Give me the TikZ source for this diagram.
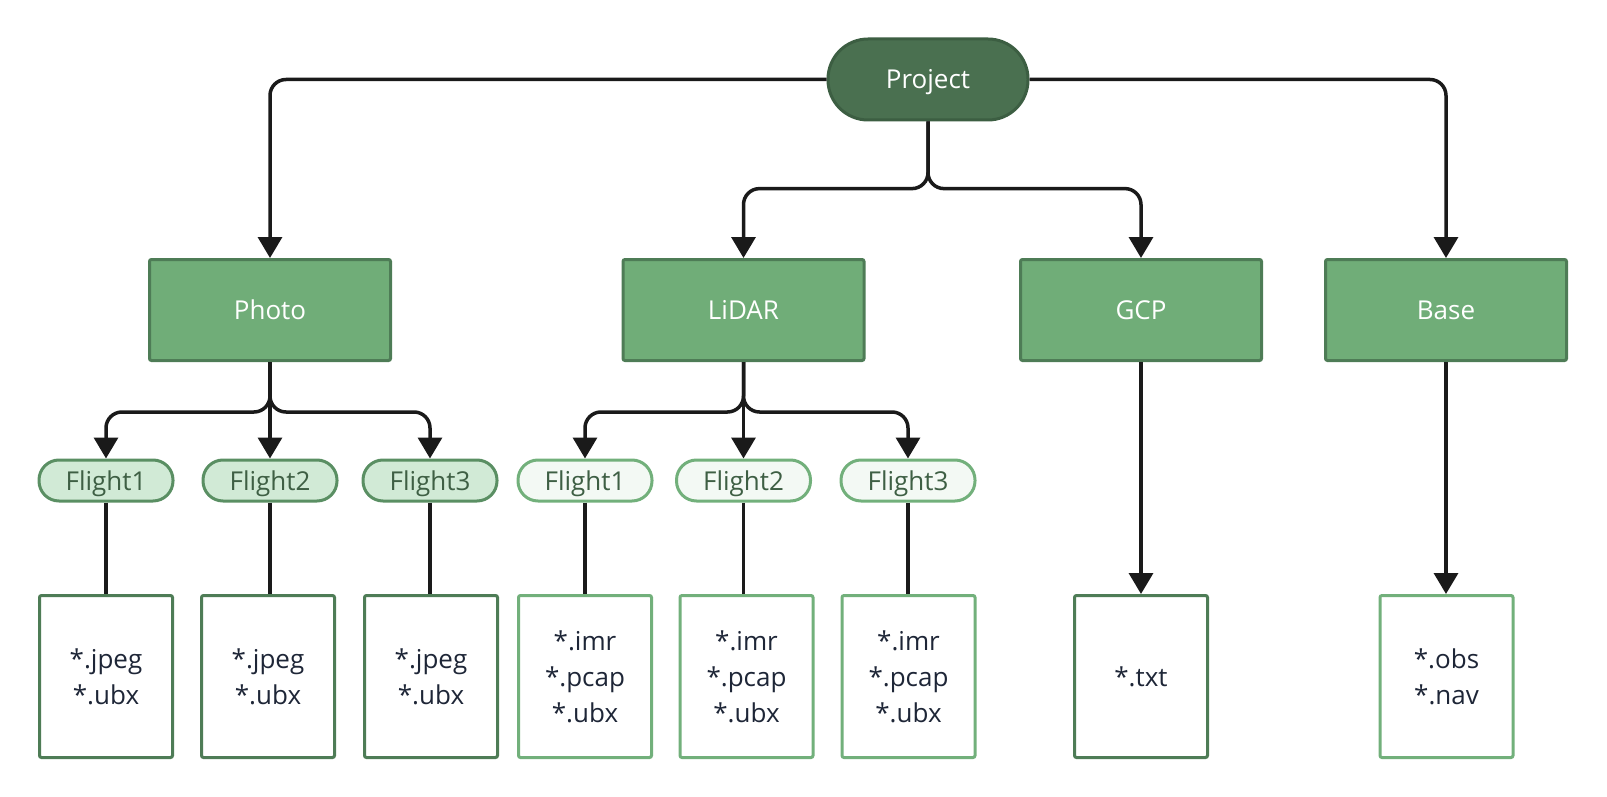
\documentclass[tikz,border=0pt]{standalone}
\usepackage{fontspec}
\setmainfont{Open Sans}
\usetikzlibrary{arrows.meta}
\definecolor{rootfill}{HTML}{4A7050}
\definecolor{rootborder}{HTML}{3C5E42}
\definecolor{catfill}{HTML}{70AD78}
\definecolor{catborder}{HTML}{4E7C56}
\definecolor{pillAfill}{HTML}{D1EAD6}
\definecolor{pillAborder}{HTML}{5A8F63}
\definecolor{pillBfill}{HTML}{F3F9F4}
\definecolor{pillBborder}{HTML}{72B07B}
\definecolor{pilltext}{HTML}{3E5F44}
\definecolor{filetext}{HTML}{1E2637}
\definecolor{linecol}{HTML}{1A1A1A}
\tikzset{
  basefont/.style={font=\fontsize{26}{36}\selectfont},
  oneline/.style={text height=19pt, text depth=0pt},
  rootbox/.style={basefont, oneline, draw=rootborder, fill=rootfill, line width=3pt, rounded corners=40pt, minimum width=200pt, minimum height=81pt, text=white},
  catbox/.style={basefont, oneline, draw=catborder, fill=catfill, line width=3pt, rounded corners=2pt, minimum width=241pt, minimum height=101pt, text=white},
  pillA/.style={basefont, oneline, draw=pillAborder, fill=pillAfill, line width=3pt, rounded corners=20pt, minimum width=134pt, minimum height=41pt, text=pilltext, inner sep=0pt},
  pillB/.style={pillA, draw=pillBborder, fill=pillBfill},
  fileA/.style={basefont, draw=catborder, fill=white, line width=3pt, rounded corners=2pt, minimum width=133pt, minimum height=162pt, text=filetext, align=center},
  fileB/.style={fileA, draw=pillBborder},
  conn/.style={draw=linecol, line width=3.5pt, rounded corners=16pt, -{Triangle[width=24pt,length=21pt]}},
  plainconn/.style={draw=linecol, line width=3.5pt},
}
\begin{document}
\begin{tikzpicture}[x=1pt,y=-1pt]
\useasboundingbox (0,0) rectangle (1607,797);

\node[rootbox] (proj) at (928,79.5) {Project};

\node[catbox] (photo) at (270,310) {Photo};
\node[catbox] (lidar) at (743.5,310) {LiDAR};
\node[catbox] (gcp) at (1141,310) {GCP};
\node[catbox] (base) at (1446,310) {Base};

\node[pillA] (pf1) at (106,480.5) {Flight1};
\node[pillA] (pf2) at (270,480.5) {Flight2};
\node[pillA] (pf3) at (430,480.5) {Flight3};
\node[pillB] (lf1) at (585,480.5) {Flight1};
\node[pillB] (lf2) at (743.5,480.5) {Flight2};
\node[pillB] (lf3) at (908,480.5) {Flight3};

\node[fileA] (pb1) at (106,676.5) {*.jpeg\\*.ubx};
\node[fileA] (pb2) at (268,676.5) {*.jpeg\\*.ubx};
\node[fileA] (pb3) at (431,676.5) {*.jpeg\\*.ubx};
\node[fileB] (lb1) at (585,676.5) {*.imr\\*.pcap\\*.ubx};
\node[fileB] (lb2) at (746.5,676.5) {*.imr\\*.pcap\\*.ubx};
\node[fileB] (lb3) at (908.5,676.5) {*.imr\\*.pcap\\*.ubx};
\node[fileA] (gtxt) at (1141,676.5) {*.txt};
\node[fileB] (bfile) at (1446.5,676.5) {*.obs\\*.nav};

\coordinate (ps) at (928,188.6);
\coordinate (phs) at (270,412);
\coordinate (lis) at (743.5,412);

\draw[conn] (proj.west) -| (photo.north);
\draw[conn] (proj.east) -| (base.north);
\draw[conn] (proj.south) -- (ps) -| (lidar.north);
\draw[conn] (proj.south) -- (ps) -| (gcp.north);

\draw[conn] (photo.south) -- (phs) -| (pf1.north);
\draw[conn] (photo.south) -- (pf2.north);
\draw[conn] (photo.south) -- (phs) -| (pf3.north);
\draw[conn] (lidar.south) -- (lis) -| (lf1.north);
\draw[conn] (lidar.south) -- (lf2.north);
\draw[conn] (lidar.south) -- (lis) -| (lf3.north);

\draw[plainconn] (pf1.south) -- (pf1.south |- pb1.north);
\draw[plainconn] (pf2.south) -- (pf2.south |- pb2.north);
\draw[plainconn] (pf3.south) -- (pf3.south |- pb3.north);
\draw[plainconn] (lf1.south) -- (lf1.south |- lb1.north);
\draw[plainconn] (lf2.south) -- (lf2.south |- lb2.north);
\draw[plainconn] (lf3.south) -- (lf3.south |- lb3.north);

\draw[conn] (gcp.south) -- (gtxt.north);
\draw[conn] (base.south) -- (base.south |- bfile.north);
\end{tikzpicture}
\end{document}
